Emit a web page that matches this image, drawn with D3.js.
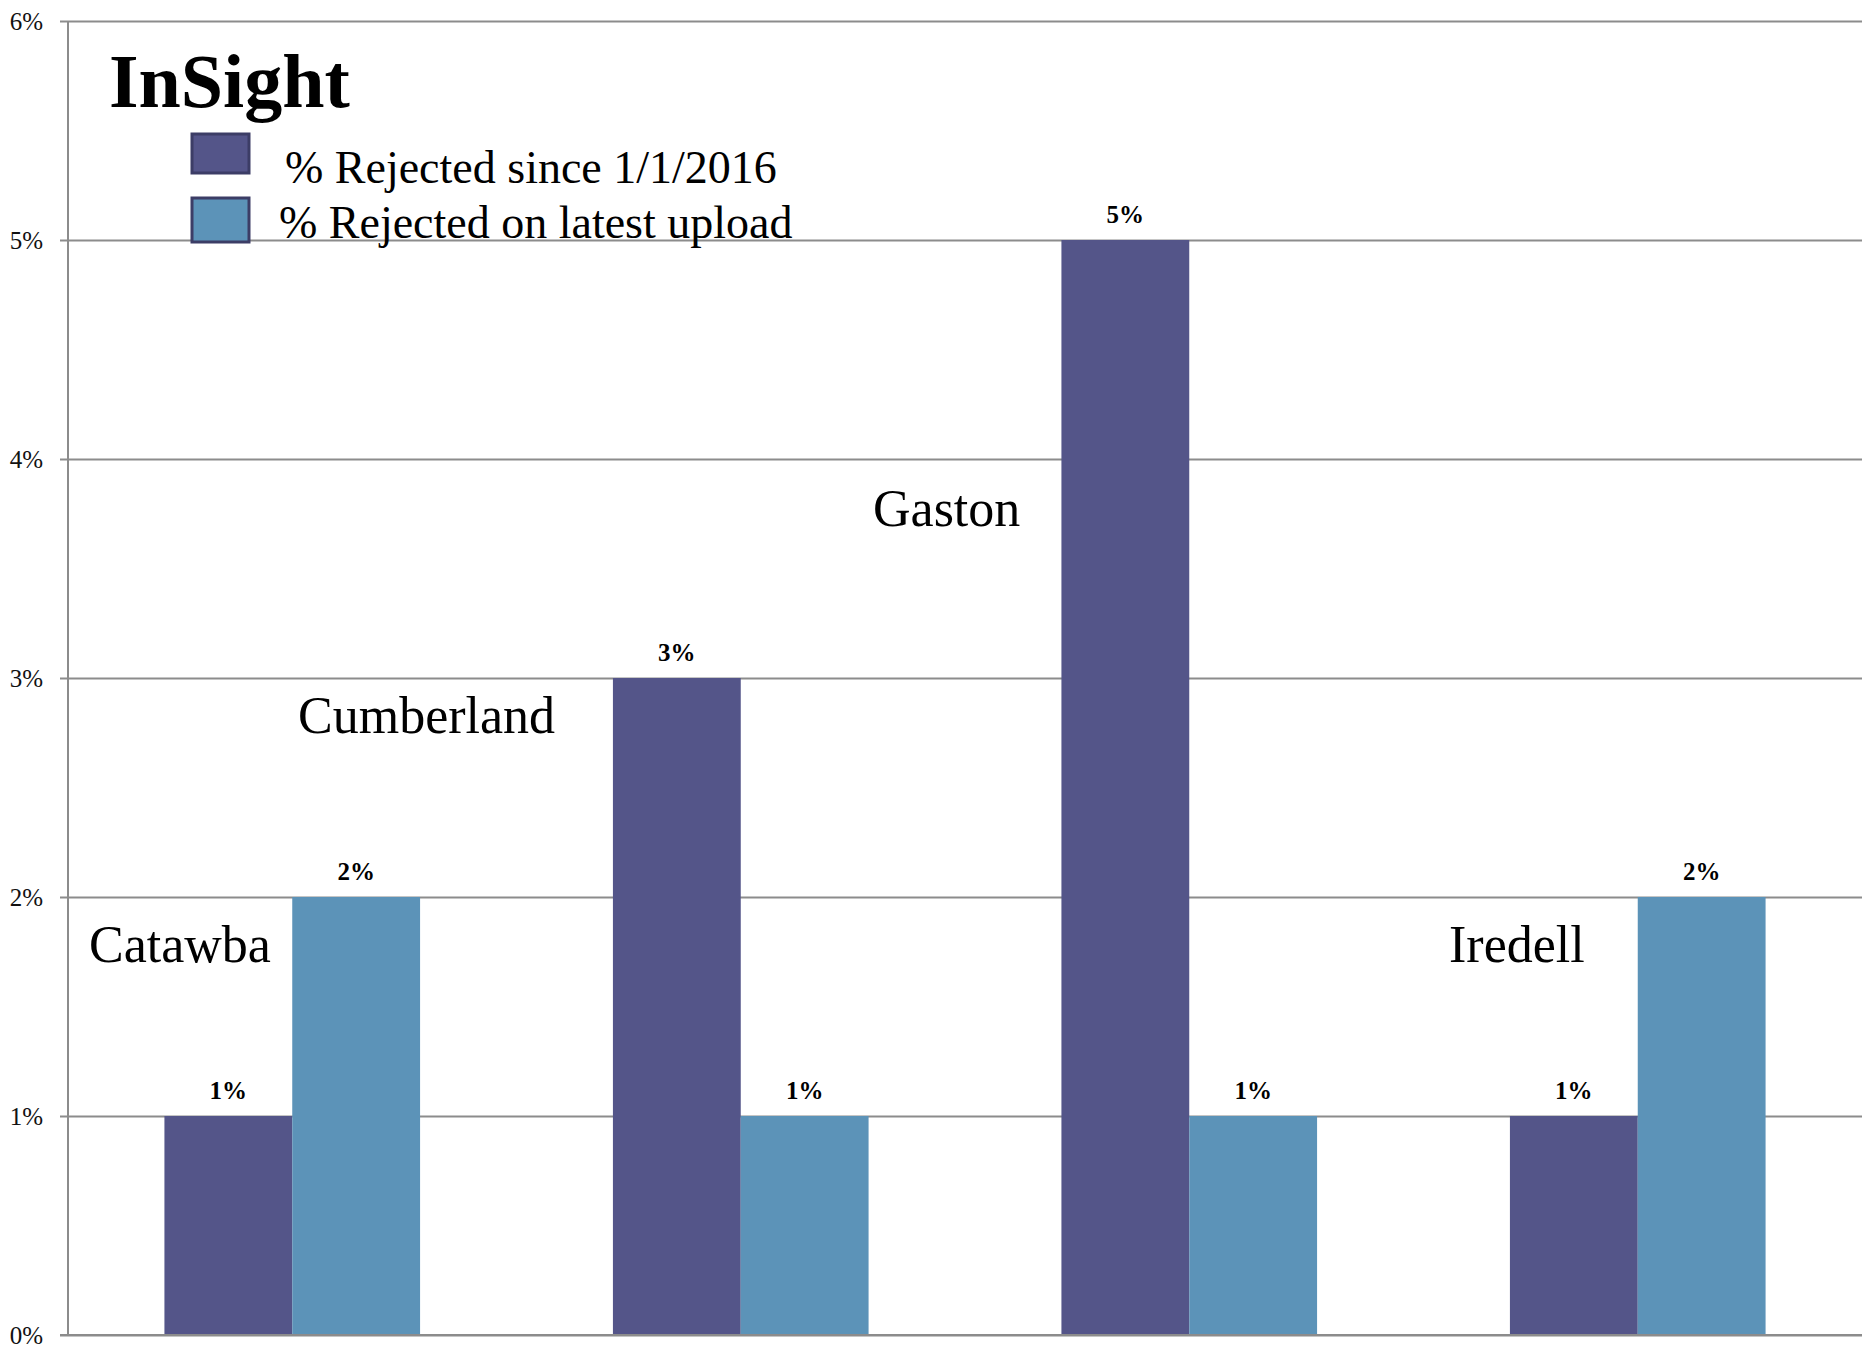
<!DOCTYPE html>
<html>
<head>
<meta charset="utf-8">
<script src="https://cdn.jsdelivr.net/npm/d3@7"></script>
<style>
  html, body { margin: 0; padding: 0; background: #fff; }
  svg { display: block; }
  text { font-family: "Liberation Serif", "Times New Roman", serif; }
</style>
</head>
<body>
<svg id="chart" width="1865" height="1348"></svg>
<script>
// County rejection rates (fractions)
const counties = ["Catawba", "Cumberland", "Gaston", "Iredell"];
const seriesNames = ["% Rejected since 1/1/2016", "% Rejected on latest upload"];
const rejectedSince2016 = [0.01, 0.03, 0.05, 0.01];
const rejectedLatestUpload = [0.02, 0.01, 0.01, 0.02];
const yTicks = [0, 0.01, 0.02, 0.03, 0.04, 0.05, 0.06];
const chartTitle = "InSight";

const seriesColors = ["#545589", "#5c93b8"];

const svg = d3.select("#chart");
const W = 1865, H = 1348;
const plot = { left: 68, right: 1862, top: 21, bottom: 1335 };

svg.append("rect").attr("width", W).attr("height", H).attr("fill", "#fff");

const y = d3.scaleLinear().domain([0, 0.06]).range([plot.bottom, plot.top]);
const x0 = d3.scaleBand().domain(counties).range([plot.left, plot.right])
  .paddingInner(0.43).paddingOuter(0.215);
const x1 = d3.scaleBand().domain(seriesNames).range([0, x0.bandwidth()]);

// Gridlines + ticks on the left axis
const yAxis = d3.axisLeft(y)
  .tickValues(yTicks)
  .tickSize(-(plot.right - plot.left))
  .tickPadding(25)
  .tickFormat(d3.format(".0%"));

const gAxis = svg.append("g")
  .attr("transform", `translate(${plot.left},0)`)
  .call(yAxis);
gAxis.select(".domain").remove();
gAxis.selectAll(".tick line")
  .attr("x1", -8)
  .attr("stroke", "#8c8c8c")
  .attr("stroke-width", 2);
gAxis.selectAll(".tick text")
  .attr("fill", "#111")
  .style("font-family", "'Liberation Serif', serif")
  .style("font-size", "25px");

// Vertical axis line
svg.append("line")
  .attr("x1", plot.left).attr("x2", plot.left)
  .attr("y1", plot.top).attr("y2", plot.bottom)
  .attr("stroke", "#8c8c8c").attr("stroke-width", 2);

// Bars
const rows = counties.map((c, i) => ({
  county: c,
  values: [
    { series: seriesNames[0], value: rejectedSince2016[i], color: seriesColors[0] },
    { series: seriesNames[1], value: rejectedLatestUpload[i], color: seriesColors[1] }
  ]
}));

const groups = svg.append("g").selectAll("g")
  .data(rows).join("g")
  .attr("transform", d => `translate(${x0(d.county)},0)`);

groups.selectAll("rect")
  .data(d => d.values).join("rect")
  .attr("x", d => x1(d.series))
  .attr("width", x1.bandwidth())
  .attr("y", d => y(d.value))
  .attr("height", d => y(0) - y(d.value))
  .attr("fill", d => d.color);

// Value labels
groups.selectAll("text.value")
  .data(d => d.values).join("text")
  .attr("class", "value")
  .attr("x", d => x1(d.series) + x1.bandwidth() / 2)
  .attr("y", d => y(d.value) - 17)
  .attr("text-anchor", "middle")
  .attr("font-weight", "bold")
  .attr("font-size", 25)
  .attr("fill", "#000")
  .text(d => d3.format(".0%")(d.value));

// Baseline redrawn over bar bottoms
svg.append("line")
  .attr("x1", plot.left - 8).attr("x2", plot.right)
  .attr("y1", plot.bottom).attr("y2", plot.bottom)
  .attr("stroke", "#8c8c8c").attr("stroke-width", 2);

// County name annotations
const countyLabelPos = [
  { x: 89, y: 962 },
  { x: 298, y: 733 },
  { x: 873, y: 526 },
  { x: 1449, y: 962 }
];
svg.append("g").selectAll("text")
  .data(counties).join("text")
  .attr("x", (d, i) => countyLabelPos[i].x)
  .attr("y", (d, i) => countyLabelPos[i].y)
  .attr("font-size", 52)
  .attr("fill", "#000")
  .text(d => d);

// Title
svg.append("text")
  .attr("x", 109).attr("y", 107)
  .attr("font-size", 76)
  .attr("font-weight", "bold")
  .attr("fill", "#000")
  .text(chartTitle);

// Legend
const legendItems = [
  { box: { x: 192, y: 134, h: 39 }, text: { x: 285, y: 183 } },
  { box: { x: 192, y: 198, h: 44 }, text: { x: 279, y: 238 } }
];
const legend = svg.append("g");
legend.selectAll("rect")
  .data(seriesNames).join("rect")
  .attr("x", (d, i) => legendItems[i].box.x)
  .attr("y", (d, i) => legendItems[i].box.y)
  .attr("width", 57)
  .attr("height", (d, i) => legendItems[i].box.h)
  .attr("fill", (d, i) => seriesColors[i])
  .attr("stroke", "#3c3d66")
  .attr("stroke-width", 3);
legend.selectAll("text")
  .data(seriesNames).join("text")
  .attr("x", (d, i) => legendItems[i].text.x)
  .attr("y", (d, i) => legendItems[i].text.y)
  .attr("font-size", 46)
  .attr("fill", "#000")
  .text(d => d);
</script>
</body>
</html>
